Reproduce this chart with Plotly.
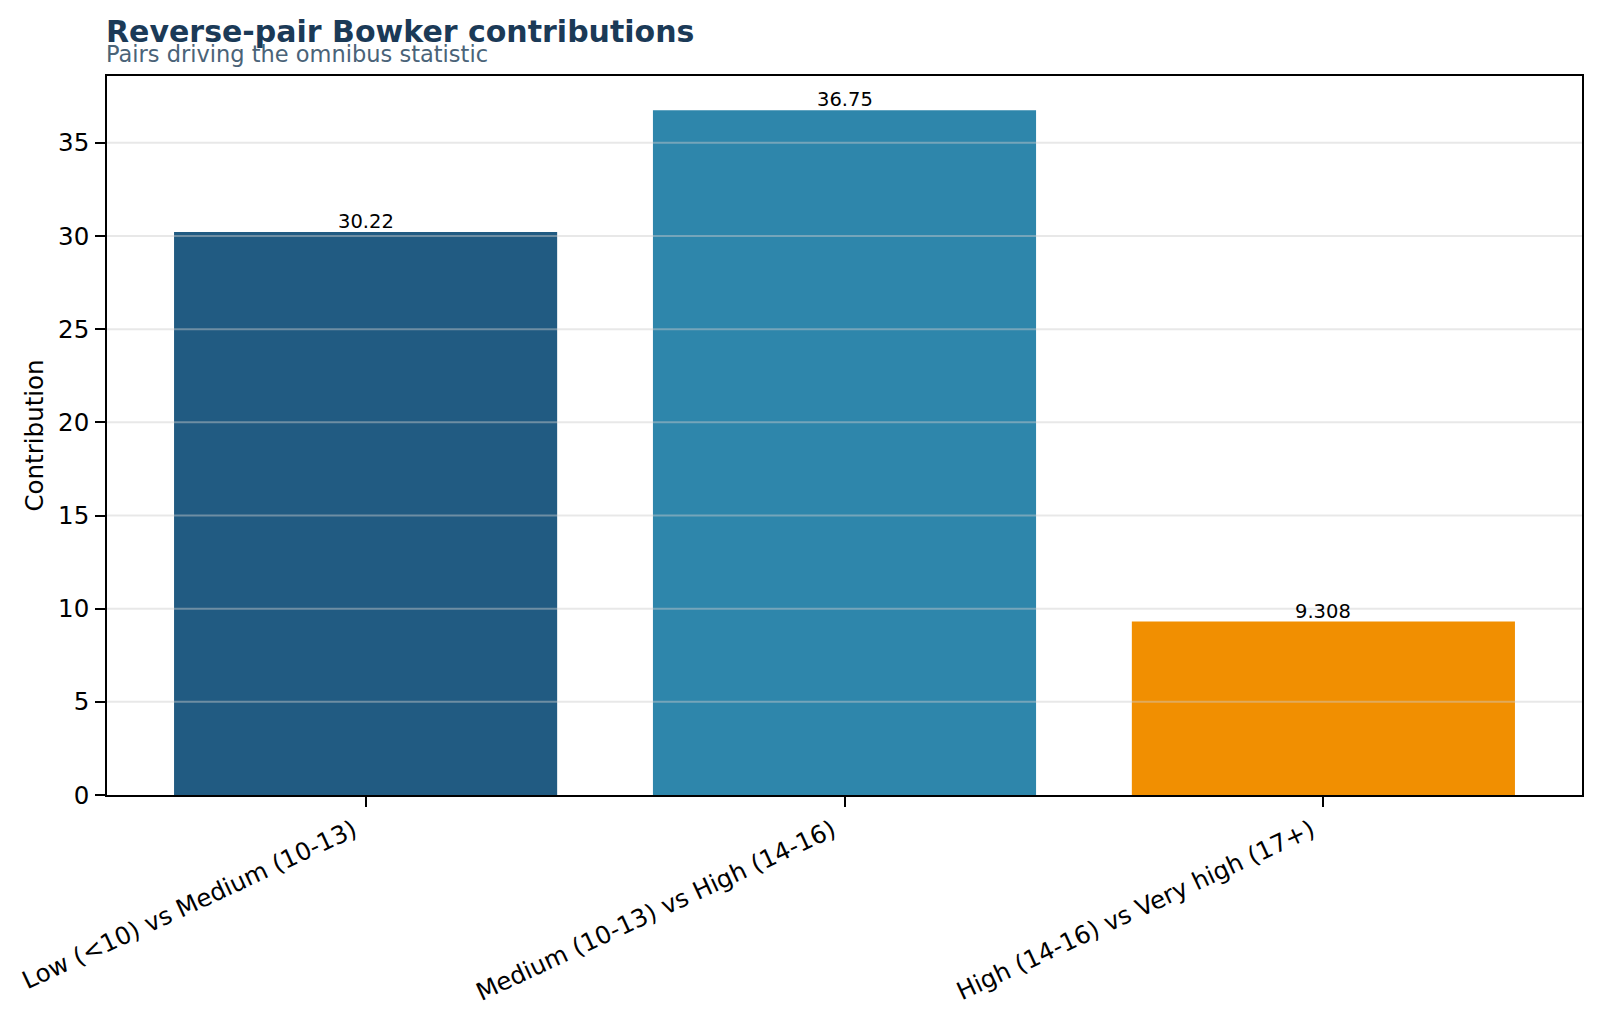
import plotly.graph_objects as go

# ---- data ----
categories = [
    "Low (<10) vs Medium (10-13)",
    "Medium (10-13) vs High (14-16)",
    "High (14-16) vs Very high (17+)",
]
contributions = [30.22, 36.75, 9.308]
bar_colors = ["#215b82", "#2e86ab", "#f18f01"]
y_ticks = [0, 5, 10, 15, 20, 25, 30, 35]

title_text = "Reverse-pair Bowker contributions"
subtitle_text = "Pairs driving the omnibus statistic"
y_label = "Contribution"

FONT = "DejaVu Sans"
W, H = 1600, 1021
ML, MR, MT, MB = 107, 18, 76, 226
PW = W - ML - MR
PH = H - MT - MB

ymax = max(contributions) * 1.05

fig = go.Figure()
fig.add_trace(go.Bar(
    x=categories,
    y=contributions,
    marker=dict(color=bar_colors, line=dict(width=0)),
    cliponaxis=False,
    showlegend=False,
))

# value labels just above each bar
for c, v in zip(categories, contributions):
    fig.add_annotation(x=c, y=v, xref="x", yref="y", text=f"{v:.4g}",
                       showarrow=False, xanchor="center", yanchor="bottom",
                       yshift=-3, font=dict(family=FONT, size=19.5, color="black"))

# grid lines drawn above bars (matplotlib style)
for t in y_ticks:
    if t == 0:
        continue
    fig.add_shape(type="line", xref="paper", x0=0, x1=1, yref="y", y0=t, y1=t,
                  line=dict(color="rgba(204,204,204,0.45)", width=2), layer="above")

def px_to_paper_y(ypx):
    return 1 + (MT - ypx) / PH

def px_to_paper_x(xpx):
    return (xpx - ML) / PW

fig.add_annotation(text=f"<b>{title_text}</b>", xref="paper", yref="paper",
                   x=0, y=px_to_paper_y(31.5), xanchor="left", yanchor="middle",
                   xshift=-3, showarrow=False,
                   font=dict(family=FONT, size=30, color="#1b3a57"))
fig.add_annotation(text=subtitle_text, xref="paper", yref="paper",
                   x=0, y=px_to_paper_y(54), xanchor="left", yanchor="middle",
                   xshift=-3, showarrow=False,
                   font=dict(family=FONT, size=22.5, color="#4a6378"))
fig.add_annotation(text=y_label, xref="paper", yref="paper",
                   x=px_to_paper_x(34), y=0.5, xanchor="center", yanchor="middle",
                   textangle=-90, showarrow=False,
                   font=dict(family=FONT, size=24.5, color="black"))

fig.update_layout(
    width=W, height=H,
    margin=dict(l=ML, r=MR, t=MT, b=MB, pad=0),
    paper_bgcolor="white", plot_bgcolor="white",
    bargap=0.2,
    font=dict(family=FONT, size=24.5, color="black"),
)
fig.update_xaxes(
    range=[-0.54, 2.54], tickangle=-25,
    showline=True, linecolor="black", linewidth=2.2, mirror=True,
    ticks="outside", ticklen=9.7, tickwidth=2.2, tickcolor="black",
    tickfont=dict(family=FONT, size=24.5, color="black"),
    ticklabelshift=-12,
    showgrid=False, zeroline=False,
)
fig.update_yaxes(
    range=[0, ymax], tickvals=y_ticks,
    showline=True, linecolor="black", linewidth=2.2, mirror=True,
    ticks="outside", ticklen=9.7, tickwidth=2.2, tickcolor="black",
    tickfont=dict(family=FONT, size=24.5, color="black"),
    ticklabelstandoff=1,
    showgrid=False, zeroline=False,
)

fig.write_html("out.html")
